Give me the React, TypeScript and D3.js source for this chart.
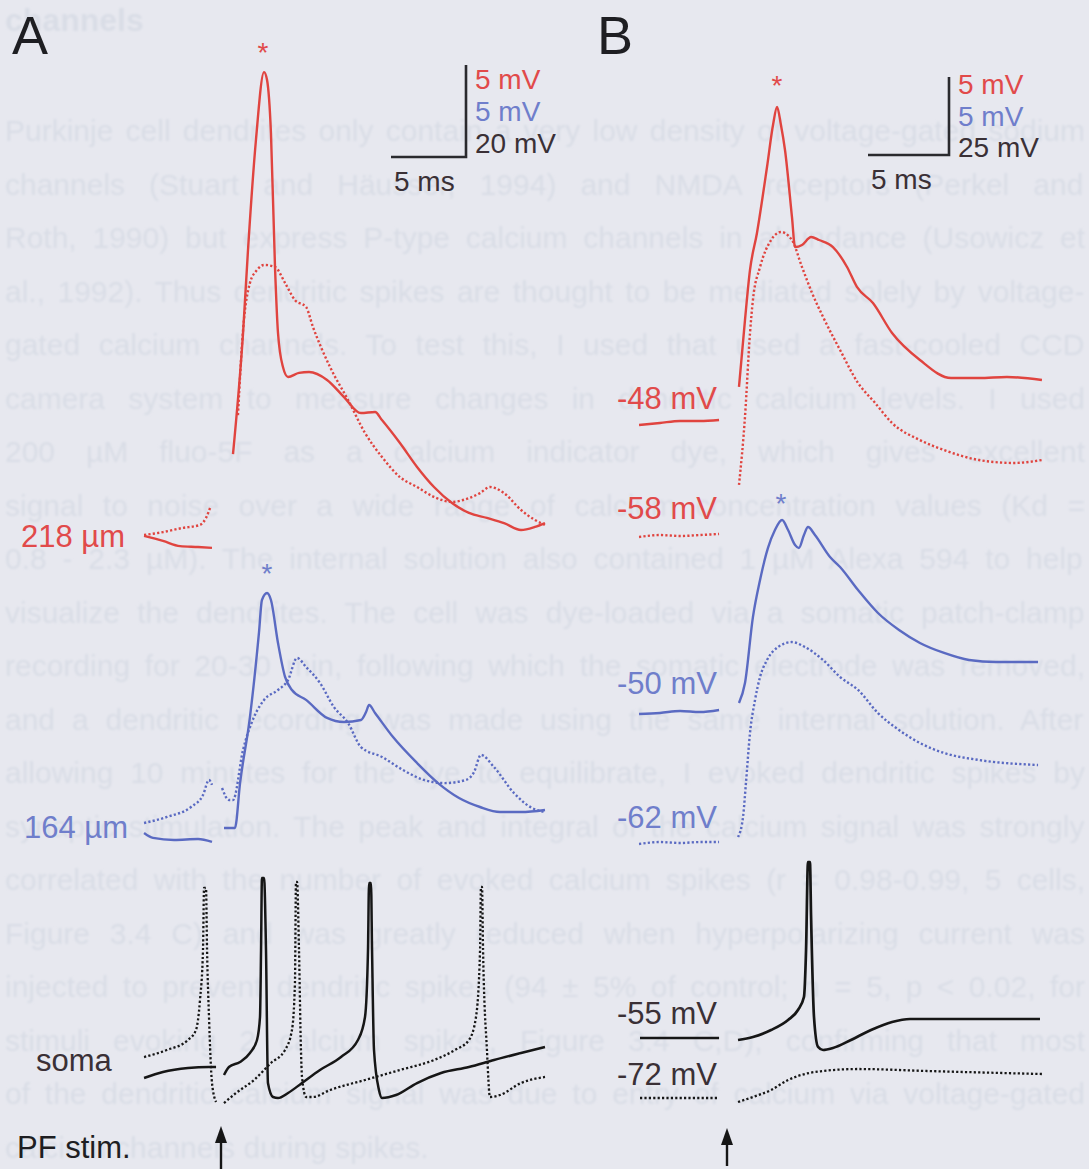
import React from "react";
import * as d3 from "d3";

type Pt = [number, number | null];

// ---- Panel A: time in ms from PF stimulus, voltage in mV relative to each trace's baseline ----
const aRedSolid: Pt[] = [
  [-5.13, 0.22], [-3.87, -0.05], [-2.73, -0.33], [-1.53, -0.38], [-0.6, -0.43], [0.1, null],
  [0.8, 4.67], [1.47, 11.25], [1.8, 15.76], [2.33, 21.74], [2.87, 25.43], [3.07, 25.0], [3.33, 22.12],
  [3.6, 14.84], [3.8, 11.25], [4.13, 9.4], [4.47, 8.86], [5.2, 9.08], [5.87, 9.13], [7.07, 8.7],
  [8.2, 7.77], [9.33, 6.9], [10.27, 6.96], [10.73, 6.52], [11.93, 5.27], [13.07, 3.97], [14.2, 2.88],
  [15.4, 2.01], [16.53, 1.47], [17.73, 1.2], [18.87, 0.92], [20.0, 0.54], [20.93, 0.71], [21.6, 0.92],
];
const aRedDotted: Pt[] = [
  [-5.13, 0.27], [-3.87, 0.43], [-2.6, 0.65], [-1.4, 0.82], [-1.0, 1.2], [-0.73, 1.74], [0.2, null],
  [1.13, 6.79], [1.47, 11.41], [1.93, 13.97], [2.4, 14.67], [2.87, 14.95], [3.6, 14.84], [4.27, 13.97],
  [4.93, 13.04], [5.67, 12.66], [6.13, 11.58], [7.27, 9.4], [8.47, 7.61], [9.6, 5.82], [10.73, 4.51],
  [11.93, 3.42], [13.07, 2.88], [14.2, 2.34], [15.4, 2.07], [16.53, 2.28], [17.27, 2.55], [17.93, 2.88],
  [18.87, 2.55], [20.0, 1.63], [20.93, 1.09], [21.6, 0.82],
];
const aBlueSolid: Pt[] = [
  [-5.13, -0.16], [-4.53, -0.43], [-3.13, -0.54], [-1.53, -0.49], [-0.6, -0.65], [-0.2, null],
  [0.2, 0.11], [0.93, 0.11], [1.27, 2.55], [1.93, 6.14], [2.53, 10.71], [2.73, 12.5], [3.07, 12.88],
  [3.33, 12.5], [3.8, 10.16], [4.27, 8.32], [4.73, 7.61], [5.67, 7.07], [7.07, 6.09], [8.2, 5.87],
  [9.33, 5.98], [9.67, 6.41], [9.87, 6.79], [10.27, 6.36], [11.47, 5.05], [13.07, 3.64], [14.47, 2.55],
  [15.87, 1.74], [17.27, 1.25], [18.6, 0.98], [20.0, 0.98], [21.6, 1.09],
];
const aBlueDotted: Pt[] = [
  [-5.13, 0.38], [-3.6, 0.71], [-2.0, 1.25], [-1.2, 1.9], [-0.8, 2.72], [-0.6, 2.45], [-0.25, null],
  [0.07, 2.28], [0.53, 1.63], [0.8, 1.63], [1.47, 4.35], [2.2, 6.14], [2.87, 7.07], [3.8, 7.61],
  [4.47, 8.15], [5.07, 9.35], [5.67, 8.86], [6.6, 7.99], [7.53, 6.68], [8.47, 5.82], [9.33, 4.51],
  [10.73, 3.97], [12.13, 3.26], [13.53, 2.72], [14.93, 2.55], [16.33, 2.72], [16.87, 3.15], [17.33, 4.08],
  [18.2, 3.42], [19.53, 2.01], [20.73, 1.2], [21.6, 0.98],
];
const aSomaSolid: Pt[] = [
  [-5.13, -2.39], [-3.87, -1.09], [-2.2, -0.22], [-0.8, 0], [-0.33, 0], [-0.1, null],
  [0.2, -1.74], [0.53, 0], [1.27, 1.09], [1.93, 3.04], [2.4, 5.87], [2.6, 10.87], [2.67, 25.43],
  [2.73, 41.09], [2.87, 41.09], [3.0, 25.43], [3.13, -3.48], [3.47, -6.52], [3.8, -6.74], [4.47, -5.65],
  [5.4, -3.48], [6.6, -0.65], [8.0, 2.17], [9.13, 5.87], [9.6, 10.87], [9.8, 25.43], [9.87, 40.0],
  [10.0, 40.0], [10.07, 25.43], [10.2, 3.7], [10.53, -5.0], [10.73, -6.74], [11.67, -6.09], [13.07, -3.48],
  [14.67, -1.3], [16.53, 0], [18.2, 1.52], [20.0, 3.04], [21.6, 4.35],
];
const aSomaDotted: Pt[] = [
  [-5.13, 2.17], [-3.6, 3.7], [-2.2, 5.87], [-1.67, 8.04], [-1.4, 14.57], [-1.2, 25.43], [-1.13, 38.91],
  [-1.0, 38.91], [-0.93, 25.43], [-0.8, 10.87], [-0.6, -3.48], [-0.33, -7.61], [-0.1, null],
  [0.2, -7.83], [1.0, -5.65], [2.2, -2.83], [3.33, 0.87], [4.27, 3.7], [4.73, 8.04], [4.93, 18.26],
  [5.0, 40.22], [5.07, 40.22], [5.2, 25.43], [5.33, 3.7], [5.4, -2.17], [5.67, -6.52], [6.13, -6.52],
  [7.27, -5.0], [9.6, -2.83], [11.93, -0.65], [14.2, 1.52], [15.6, 3.7], [16.53, 5.87], [17.0, 10.87],
  [17.27, 25.43], [17.33, 39.13], [17.4, 39.13], [17.47, 25.43], [17.73, 3.7], [17.93, -6.52],
  [18.6, -6.09], [20.0, -3.48], [21.6, -2.17],
];

// ---- Panel B ----
const bRedSolid: Pt[] = [
  [-5.43, -0.13], [-4.14, 0], [-2.9, 0.13], [-1.67, 0.13], [-0.49, 0.19], [0.2, null],
  [0.74, 2.31], [1.11, 6.6], [1.42, 9.81], [1.85, 12.18], [2.47, 16.41], [2.84, 19.1], [3.09, 20.26],
  [3.33, 19.1], [3.58, 17.5], [4.01, 13.21], [4.2, 11.28], [4.63, 11.41], [5.19, 11.92], [5.68, 11.73],
  [6.54, 11.28], [7.41, 10.0], [8.02, 8.72], [9.01, 7.69], [10.19, 5.77], [11.91, 4.04], [13.83, 2.88],
  [15.56, 2.88], [17.28, 2.95], [19.44, 2.76],
];
const bRedDotted: Pt[] = [
  [-5.43, -0.06], [-4.14, 0.06], [-2.9, 0], [-1.67, 0.06], [-0.49, 0.13], [0.2, null],
  [0.74, 3.27], [1.11, 7.63], [1.42, 13.01], [1.6, 15.13], [2.04, 17.24], [2.72, 18.97], [3.33, 19.49],
  [4.01, 18.97], [4.63, 17.24], [5.25, 15.58], [5.93, 14.04], [6.98, 11.92], [8.09, 9.81], [9.14, 8.53],
  [10.19, 7.24], [11.91, 6.15], [13.4, 5.51], [15.56, 4.87], [17.72, 4.68], [19.44, 4.87],
];
const bBlueSolid: Pt[] = [
  [-5.43, -0.06], [-4.14, 0], [-2.9, 0.13], [-1.67, 0.06], [-0.49, 0.19], [0.2, null],
  [0.74, 0.64], [1.11, 1.92], [1.6, 6.15], [2.04, 8.53], [2.53, 10.58], [2.96, 11.73], [3.4, 12.37],
  [3.77, 11.73], [4.2, 10.77], [4.44, 10.58], [4.75, 11.41], [5.0, 11.92], [5.43, 11.41], [6.36, 10.0],
  [6.98, 9.36], [8.09, 7.88], [9.32, 6.41], [10.62, 5.32], [11.91, 4.49], [13.4, 3.85], [14.94, 3.4],
  [16.6, 3.27], [19.2, 3.27],
];
const bBlueDotted: Pt[] = [
  [-5.43, -0.06], [-4.14, 0.06], [-2.9, 0], [-1.67, 0.06], [-0.49, 0.06], [0.2, null],
  [0.68, 0.38], [0.99, 1.67], [1.17, 3.85], [1.42, 7.05], [1.73, 9.17], [2.04, 10.64], [2.47, 11.73],
  [3.15, 12.56], [4.01, 12.88], [4.81, 12.56], [5.93, 11.73], [6.98, 10.64], [8.09, 9.81], [9.32, 8.33],
  [10.62, 7.24], [11.91, 6.41], [13.4, 5.77], [15.56, 5.32], [19.2, 5.0],
];
const bSomaSolid: Pt[] = [
  [-5.37, 0], [-0.49, 0], [0.2, null],
  [0.68, -0.64], [1.6, 0.32], [2.72, 2.56], [3.77, 5.77], [4.38, 8.97], [4.75, 13.14], [4.88, 28.21],
  [5.0, 56.41], [5.12, 56.41], [5.19, 38.78], [5.37, 6.73], [5.62, -2.88], [5.93, -3.85], [6.54, -3.21],
  [7.65, -0.64], [8.89, 2.56], [10.19, 5.13], [11.3, 6.09], [14.51, 6.09], [19.32, 6.09],
];
const bSomaDotted: Pt[] = [
  [-5.37, 0], [-0.49, 0], [0.2, null],
  [0.68, -1.28], [1.6, 0.32], [2.72, 2.56], [3.77, 5.77], [5.06, 8.01], [5.93, 8.65], [8.09, 9.29],
  [12.35, 8.65], [19.44, 7.69],
];

// ---- Labels ----
const panelLetters = ["A", "B"];
const distanceLabels = ["218 µm", "164 µm", "soma"];
const stimLabel = "PF stim.";
const restingLabels = ["-48 mV", "-58 mV", "-50 mV", "-62 mV", "-55 mV", "-72 mV"];
const scaleLabelsA = ["5 mV", "5 mV", "20 mV"];
const scaleLabelsB = ["5 mV", "5 mV", "25 mV"];
const scaleTime = "5 ms";
const scaleUnitsA = { ms: 5, dend: 5, soma: 20 };
const scaleUnitsB = { ms: 5, dend: 5, soma: 25 };

// Page text showing through from the other side of the sheet
const pageHeading = "channels";
const pageLines = [
  "Purkinje cell dendrites only contain a very low density of voltage-gated sodium",
  "channels (Stuart and Häusser, 1994) and NMDA receptors (Perkel and",
  "Roth, 1990) but express P-type calcium channels in abundance (Usowicz et",
  "al., 1992). Thus dendritic spikes are thought to be mediated solely by voltage-",
  "gated calcium channels. To test this, I used that used a fast-cooled CCD",
  "camera system to measure changes in dendritic calcium levels. I used",
  "200 µM fluo-5F as a calcium indicator dye, which gives excellent",
  "signal to noise over a wide range of calcium concentration values (Kd =",
  "0.8 - 2.3 µM). The internal solution also contained 1 µM Alexa 594 to help",
  "visualize the dendrites. The cell was dye-loaded via a somatic patch-clamp",
  "recording for 20-30 min, following which the somatic electrode was removed,",
  "and a dendritic recording was made using the same internal solution. After",
  "allowing 10 minutes for the dye to equilibrate, I evoked dendritic spikes by",
  "synaptic stimulation. The peak and integral of the calcium signal was strongly",
  "correlated with the number of evoked calcium spikes (r = 0.98-0.99, 5 cells,",
  "Figure 3.4 C) and was greatly reduced when hyperpolarizing current was",
  "injected to prevent dendritic spikes (94 ± 5% of control; n = 5, p < 0.02, for",
  "stimuli evoking 2 calcium spikes, Figure 3.4 C,D), confirming that most",
  "of the dendritic calcium signal was due to entry of calcium via voltage-gated",
  "calcium channels during spikes.",
];

const RED = "#e0443f";
const RED_TXT = "#e14a4a";
const BLUE = "#5a6ac2";
const BLUE_TXT = "#6f7ecb";
const BLACK = "#161616";
const DARK_TXT = "#3a3036";
const BG = "#e7e8ef";
const FAINT = "#d9dde6";
const FONT = "'Liberation Sans', Arial, Helvetica, sans-serif";
const PAGE_SIZE = 30;
const PAGE_WIDTH = 1080;
const LABEL_SIZE = 31;

// Layout
const W = 1089;
const H = 1169;
const xA = d3.scaleLinear().domain([0, 5]).range([221, 296]);
const xB = d3.scaleLinear().domain([0, 5]).range([727, 808]);
const vScale = (base: number, unit: number, px: number) =>
  d3.scaleLinear().domain([0, unit]).range([base, base - px]);
const A_PX = 92;
const B_PX = 78;

type Trace = { data: Pt[]; color: string; dotted: boolean; x: d3.ScaleLinear<number, number>; y: d3.ScaleLinear<number, number>; width: number };

const traces: Trace[] = [
  { data: aRedDotted, color: RED, dotted: true, x: xA, y: vScale(540, scaleUnitsA.dend, A_PX), width: 2.4 },
  { data: aRedSolid, color: RED, dotted: false, x: xA, y: vScale(540, scaleUnitsA.dend, A_PX), width: 2.4 },
  { data: aBlueDotted, color: BLUE, dotted: true, x: xA, y: vScale(830, scaleUnitsA.dend, A_PX), width: 2.4 },
  { data: aBlueSolid, color: BLUE, dotted: false, x: xA, y: vScale(830, scaleUnitsA.dend, A_PX), width: 2.4 },
  { data: aSomaDotted, color: BLACK, dotted: true, x: xA, y: vScale(1067, scaleUnitsA.soma, A_PX), width: 2.3 },
  { data: aSomaSolid, color: BLACK, dotted: false, x: xA, y: vScale(1067, scaleUnitsA.soma, A_PX), width: 2.5 },
  { data: bRedDotted, color: RED, dotted: true, x: xB, y: vScale(536, scaleUnitsB.dend, B_PX), width: 2.4 },
  { data: bRedSolid, color: RED, dotted: false, x: xB, y: vScale(423, scaleUnitsB.dend, B_PX), width: 2.4 },
  { data: bBlueDotted, color: BLUE, dotted: true, x: xB, y: vScale(843, scaleUnitsB.dend, B_PX), width: 2.4 },
  { data: bBlueSolid, color: BLUE, dotted: false, x: xB, y: vScale(713, scaleUnitsB.dend, B_PX), width: 2.4 },
  { data: bSomaDotted, color: BLACK, dotted: true, x: xB, y: vScale(1098, scaleUnitsB.soma, B_PX), width: 2.3 },
  { data: bSomaSolid, color: BLACK, dotted: false, x: xB, y: vScale(1038, scaleUnitsB.soma, B_PX), width: 2.7 },
];

function tracePath(t: Trace): string {
  const line = d3
    .line<Pt>()
    .defined((d) => d[1] !== null)
    .x((d) => t.x(d[0]))
    .y((d) => t.y(d[1] as number))
    .curve(d3.curveMonotoneX);
  return line(t.data) || "";
}

// word spacing that stretches a line of page text to the full column width
let measureCtx: CanvasRenderingContext2D | null = null;
function justifySpacing(s: string): number {
  if (typeof document === "undefined") return 0;
  if (!measureCtx) measureCtx = document.createElement("canvas").getContext("2d");
  if (!measureCtx) return 0;
  measureCtx.font = `${PAGE_SIZE}px "Liberation Sans"`;
  const w = measureCtx.measureText(s).width;
  const gaps = s.split(" ").length - 1;
  return gaps > 0 ? Math.max(0, (PAGE_WIDTH - w) / gaps) : 0;
}

function ScaleBar({ right, bottom, hLen, vLen, labels, colors, timeLabel, firstBase, step }: {
  right: number; bottom: number; hLen: number; vLen: number; labels: string[]; colors: string[];
  timeLabel: string; firstBase: number; step: number;
}) {
  const top = bottom - vLen;
  return (
    <g>
      <path d={`M${right - hLen},${bottom} H${right} V${top}`} fill="none" stroke="#2a2a2e" strokeWidth={2.6} />
      {labels.map((l, i) => (
        <text key={i} x={right + 9} y={firstBase + i * step} fill={colors[i]} fontSize={28} fontFamily={FONT}>
          {l}
        </text>
      ))}
      <text x={right - hLen + 3} y={bottom + 34} fill={DARK_TXT} fontSize={28} fontFamily={FONT}>
        {timeLabel}
      </text>
    </g>
  );
}

function Arrow({ x, tip, end }: { x: number; tip: number; end: number }) {
  return (
    <g>
      <line x1={x} x2={x} y1={tip + 8} y2={end} stroke="#161616" strokeWidth={2.4} />
      <path d={`M${x},${tip} L${x - 6},${tip + 17} L${x + 6},${tip + 17} Z`} fill="#161616" />
    </g>
  );
}

export default function App() {
  const lineH = 53.5;
  return (
    <svg
      width={W}
      height={H}
      viewBox={`0 0 ${W} ${H}`}
      style={{ position: "absolute", left: 0, top: 0, display: "block" }}
    >
      <defs>
        <filter id="soft" x="-5%" y="-5%" width="110%" height="110%">
          <feGaussianBlur stdDeviation={1.1} />
        </filter>
      </defs>
      <rect x={0} y={0} width={W} height={H} fill={BG} />

      {/* page text bleeding through */}
      <g filter="url(#soft)" fill={FAINT} fontFamily={FONT} fontSize={PAGE_SIZE}>
        <text x={5} y={31} fontWeight="bold" fontSize={32}>{pageHeading}</text>
        {pageLines.map((l, i) => (
          <text
            key={i}
            x={5}
            y={141 + i * lineH}
            style={{ wordSpacing: i < pageLines.length - 1 ? `${justifySpacing(l)}px` : undefined }}
          >
            {l}
          </text>
        ))}
      </g>

      {/* panel letters */}
      <text x={12} y={54} fontSize={54} fontFamily={FONT} fill="#1e1e22">{panelLetters[0]}</text>
      <text x={597} y={54} fontSize={54} fontFamily={FONT} fill="#1e1e22">{panelLetters[1]}</text>

      {/* scale bars */}
      <ScaleBar
        right={466}
        bottom={157}
        hLen={xA(scaleUnitsA.ms) - xA(0)}
        vLen={A_PX}
        labels={scaleLabelsA}
        colors={[RED_TXT, BLUE_TXT, DARK_TXT]}
        timeLabel={scaleTime}
        firstBase={89}
        step={32}
      />
      <ScaleBar
        right={949}
        bottom={155}
        hLen={xB(scaleUnitsB.ms) - xB(0)}
        vLen={B_PX}
        labels={scaleLabelsB}
        colors={[RED_TXT, BLUE_TXT, DARK_TXT]}
        timeLabel={scaleTime}
        firstBase={94}
        step={31.5}
      />

      {/* traces */}
      {traces.map((t, i) => (
        <path
          key={i}
          d={tracePath(t)}
          fill="none"
          stroke={t.color}
          strokeWidth={t.width}
          strokeDasharray={t.dotted ? "2.2 2.2" : undefined}
          strokeLinejoin="round"
        />
      ))}

      {/* asterisks marking dendritic spikes */}
      <text x={263} y={62} textAnchor="middle" fontSize={28} fontFamily={FONT} fill={RED_TXT}>*</text>
      <text x={267} y={583} textAnchor="middle" fontSize={28} fontFamily={FONT} fill={BLUE_TXT}>*</text>
      <text x={777} y={95} textAnchor="middle" fontSize={28} fontFamily={FONT} fill={RED_TXT}>*</text>
      <text x={781} y={513} textAnchor="middle" fontSize={28} fontFamily={FONT} fill={BLUE_TXT}>*</text>

      {/* panel A labels */}
      <text x={21} y={547} fontSize={LABEL_SIZE} fontFamily={FONT} fill={RED_TXT}>{distanceLabels[0]}</text>
      <text x={24} y={838} fontSize={LABEL_SIZE} fontFamily={FONT} fill={BLUE_TXT}>{distanceLabels[1]}</text>
      <text x={36} y={1071} fontSize={LABEL_SIZE} fontFamily={FONT} fill={DARK_TXT}>{distanceLabels[2]}</text>
      <text x={17} y={1158} fontSize={LABEL_SIZE} fontFamily={FONT} fill="#1e1e22">{stimLabel}</text>

      {/* panel B resting potentials */}
      {restingLabels.map((l, i) => {
        const ys = [409, 519, 694, 828, 1024, 1085];
        const cs = [RED_TXT, RED_TXT, BLUE_TXT, BLUE_TXT, DARK_TXT, DARK_TXT];
        return (
          <text key={i} x={617} y={ys[i]} fontSize={LABEL_SIZE} fontFamily={FONT} fill={cs[i]}>{l}</text>
        );
      })}

      {/* stimulus arrows */}
      <Arrow x={xA(0)} tip={1126} end={1169} />
      <Arrow x={xB(0)} tip={1128} end={1166} />
    </svg>
  );
}
